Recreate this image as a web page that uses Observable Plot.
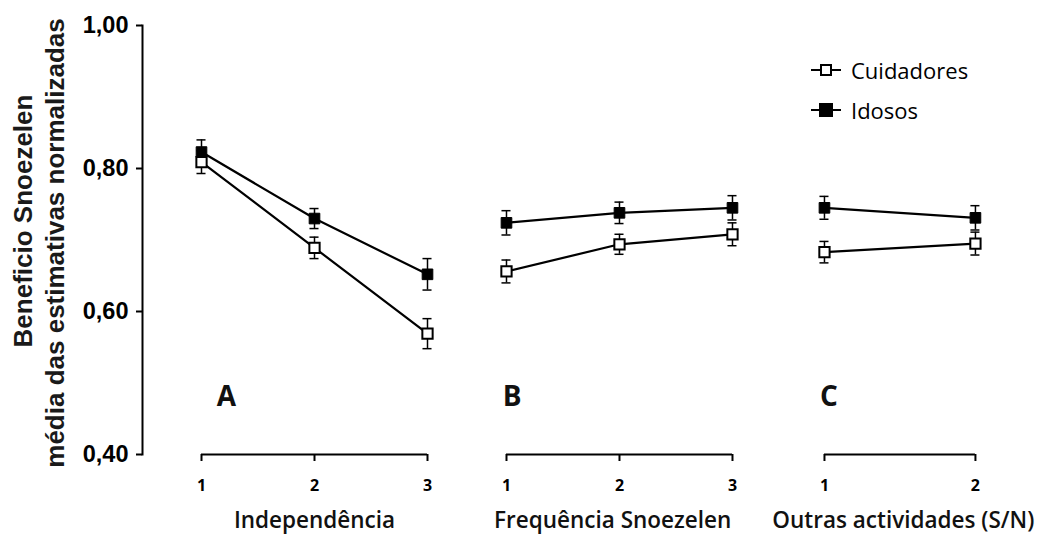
<!DOCTYPE html>
<html>
<head>
<meta charset="utf-8">
<script src="https://cdn.jsdelivr.net/npm/d3@7"></script>
<script src="https://cdn.jsdelivr.net/npm/@observablehq/plot@0.6"></script>
<style>
  html, body { margin: 0; padding: 0; background: #fff; }
  #wrap { position: relative; width: 1047px; height: 536px; overflow: hidden; }
  #legend { position: absolute; left: 811px; top: 50px; font-family: "Open Sans", sans-serif; font-size: 22px; color: #000; }
  #legend .row { display: flex; align-items: center; height: 40px; }
  #legend svg { margin-right: 8px; }
</style>
</head>
<body>
<div id="wrap"><div id="legend"></div></div>
<script>
// ---- data ----
const seriesNames = ["Cuidadores", "Idosos"];
const panelKeys = ["A", "B", "C"];
const panelTitles = ["Independência", "Frequência Snoezelen", "Outras actividades (S/N)"];
const levelsA = [1, 2, 3];
const levelsB = [1, 2, 3];
const levelsC = [1, 2];
const cuidadoresA = [0.809, 0.689, 0.569];
const cuidadoresErrA = [0.016, 0.015, 0.021];
const idososA = [0.823, 0.730, 0.652];
const idososErrA = [0.017, 0.014, 0.022];
const cuidadoresB = [0.656, 0.694, 0.708];
const cuidadoresErrB = [0.016, 0.014, 0.016];
const idososB = [0.724, 0.738, 0.745];
const idososErrB = [0.017, 0.015, 0.017];
const cuidadoresC = [0.683, 0.695];
const cuidadoresErrC = [0.015, 0.016];
const idososC = [0.745, 0.731];
const idososErrC = [0.016, 0.017];
const yTicks = [0.40, 0.60, 0.80, 1.00];

// ---- layout (x in "level units", panel A step = 1) ----
const layout = {
  A: {offset: 0, step: 1, letterDx: 0.22, titleDx: 0},
  B: {offset: 2.699, step: 1, letterDx: 0.05, titleDx: -0.06},
  C: {offset: 5.513, step: 1.336, letterDx: 0.04, titleDx: 0.03}
};
const levelsBy = {A: levelsA, B: levelsB, C: levelsC};
const valuesBy = {
  A: {Cuidadores: [cuidadoresA, cuidadoresErrA], Idosos: [idososA, idososErrA]},
  B: {Cuidadores: [cuidadoresB, cuidadoresErrB], Idosos: [idososB, idososErrB]},
  C: {Cuidadores: [cuidadoresC, cuidadoresErrC], Idosos: [idososC, idososErrC]}
};
const pos = (p, level) => 1 + layout[p].offset + (level - 1) * layout[p].step;

const rows = [];
for (const p of panelKeys) {
  for (const s of seriesNames) {
    const [vals, errs] = valuesBy[p][s];
    levelsBy[p].forEach((lv, i) => rows.push({panel: p, series: s, level: lv, u: pos(p, lv), value: vals[i], err: errs[i]}));
  }
}
const panels = panelKeys.map((p, i) => {
  const lv = levelsBy[p];
  const first = pos(p, lv[0]), last = pos(p, lv[lv.length - 1]);
  return {key: p, title: panelTitles[i], first, last, mid: (first + last) / 2 + layout[p].titleDx, letterX: first + layout[p].letterDx};
});
const capHalf = 0.04;
const comma = d => d.toFixed(2).replace(".", ",");
const arial = "Liberation Sans, Arial, sans-serif";

const marks = [
  Plot.frame({anchor: "left", stroke: "black", strokeWidth: 2}),
  Plot.axisY(yTicks, {anchor: "left", tickSize: 6, tickPadding: 8, tickFormat: comma, fontSize: 23.5, fontWeight: "bold", fontFamily: arial, strokeWidth: 2, label: null}),
  Plot.text(["Beneficio Snoezelen"], {frameAnchor: "left", textAnchor: "middle", rotate: -90, dx: -119, dy: -19, fontSize: 26, fontWeight: "bold", fontFamily: arial, fill: "#1a1a1a"}),
  Plot.text(["média das estimativas normalizadas"], {frameAnchor: "left", textAnchor: "middle", rotate: -90, dx: -87, dy: 3, fontSize: 26, fontWeight: "bold", fontFamily: arial, fill: "#1a1a1a"}),
  Plot.ruleY(panels, {y: () => 0.4, x1: "first", x2: "last", stroke: "black", strokeWidth: 2}),
  ...panelKeys.map(p => {
    const lv = levelsBy[p];
    const labelMap = new Map(lv.map(l => [pos(p, l), String(l)]));
    return Plot.axisX(lv.map(l => pos(p, l)), {anchor: "bottom", tickSize: 7, tickPadding: 18, strokeWidth: 2, tickFormat: d => labelMap.get(d), fontSize: 16, fontWeight: "bold", fontFamily: "Open Sans, sans-serif", label: null});
  }),
  Plot.text(panels, {x: "mid", y: () => 0.4, dy: 66, text: "title", fontSize: 22.5, fontWeight: 600, fontFamily: "Open Sans, sans-serif", fill: "#111"}),
  Plot.text(panels, {x: "letterX", y: () => 0.481, text: "key", fontSize: 28, fontWeight: "bold", fontFamily: "Open Sans, sans-serif", fill: "#111"}),
  Plot.ruleX(rows, {x: "u", y1: d => d.value - d.err, y2: d => d.value + d.err, stroke: "black", strokeWidth: 1.5}),
  Plot.ruleY(rows, {y: d => d.value + d.err, x1: d => d.u - capHalf, x2: d => d.u + capHalf, stroke: "black", strokeWidth: 1.5}),
  Plot.ruleY(rows, {y: d => d.value - d.err, x1: d => d.u - capHalf, x2: d => d.u + capHalf, stroke: "black", strokeWidth: 1.5}),
  Plot.line(rows, {x: "u", y: "value", z: d => d.panel + d.series, stroke: "black", strokeWidth: 2.2}),
  Plot.dot(rows.filter(d => d.series === "Cuidadores"), {x: "u", y: "value", symbol: "square", r: 5.8, fill: "white", stroke: "black", strokeWidth: 2}),
  Plot.dot(rows.filter(d => d.series === "Idosos"), {x: "u", y: "value", symbol: "square", r: 6, fill: "black", stroke: "black", strokeWidth: 1})
];

const chart = Plot.plot({
  width: 1047,
  height: 536,
  marginTop: 25,
  marginBottom: 82,
  marginLeft: 142,
  marginRight: 0,
  style: {fontFamily: arial, background: "white", color: "black", overflow: "visible"},
  x: {type: "linear", domain: [1, 3], range: [201, 427], axis: null},
  y: {type: "linear", domain: [0.4, 1.0], range: [454, 25], axis: null},
  marks
});
const wrap = document.getElementById("wrap");
wrap.insertBefore(chart, wrap.firstChild);

// legend
const legend = document.getElementById("legend");
seriesNames.forEach(s => {
  const row = document.createElement("div");
  row.className = "row";
  const filled = s === "Idosos";
  row.innerHTML = `<svg width="32" height="16"><line x1="0" y1="8" x2="30" y2="8" stroke="black" stroke-width="2"/>` +
    `<rect x="${filled ? 9 : 10}" y="${filled ? 2 : 3}" width="${filled ? 12 : 10}" height="${filled ? 12 : 10}" fill="${filled ? "black" : "white"}" stroke="black" stroke-width="2"/></svg><span>${s}</span>`;
  legend.appendChild(row);
});
</script>
</body>
</html>
